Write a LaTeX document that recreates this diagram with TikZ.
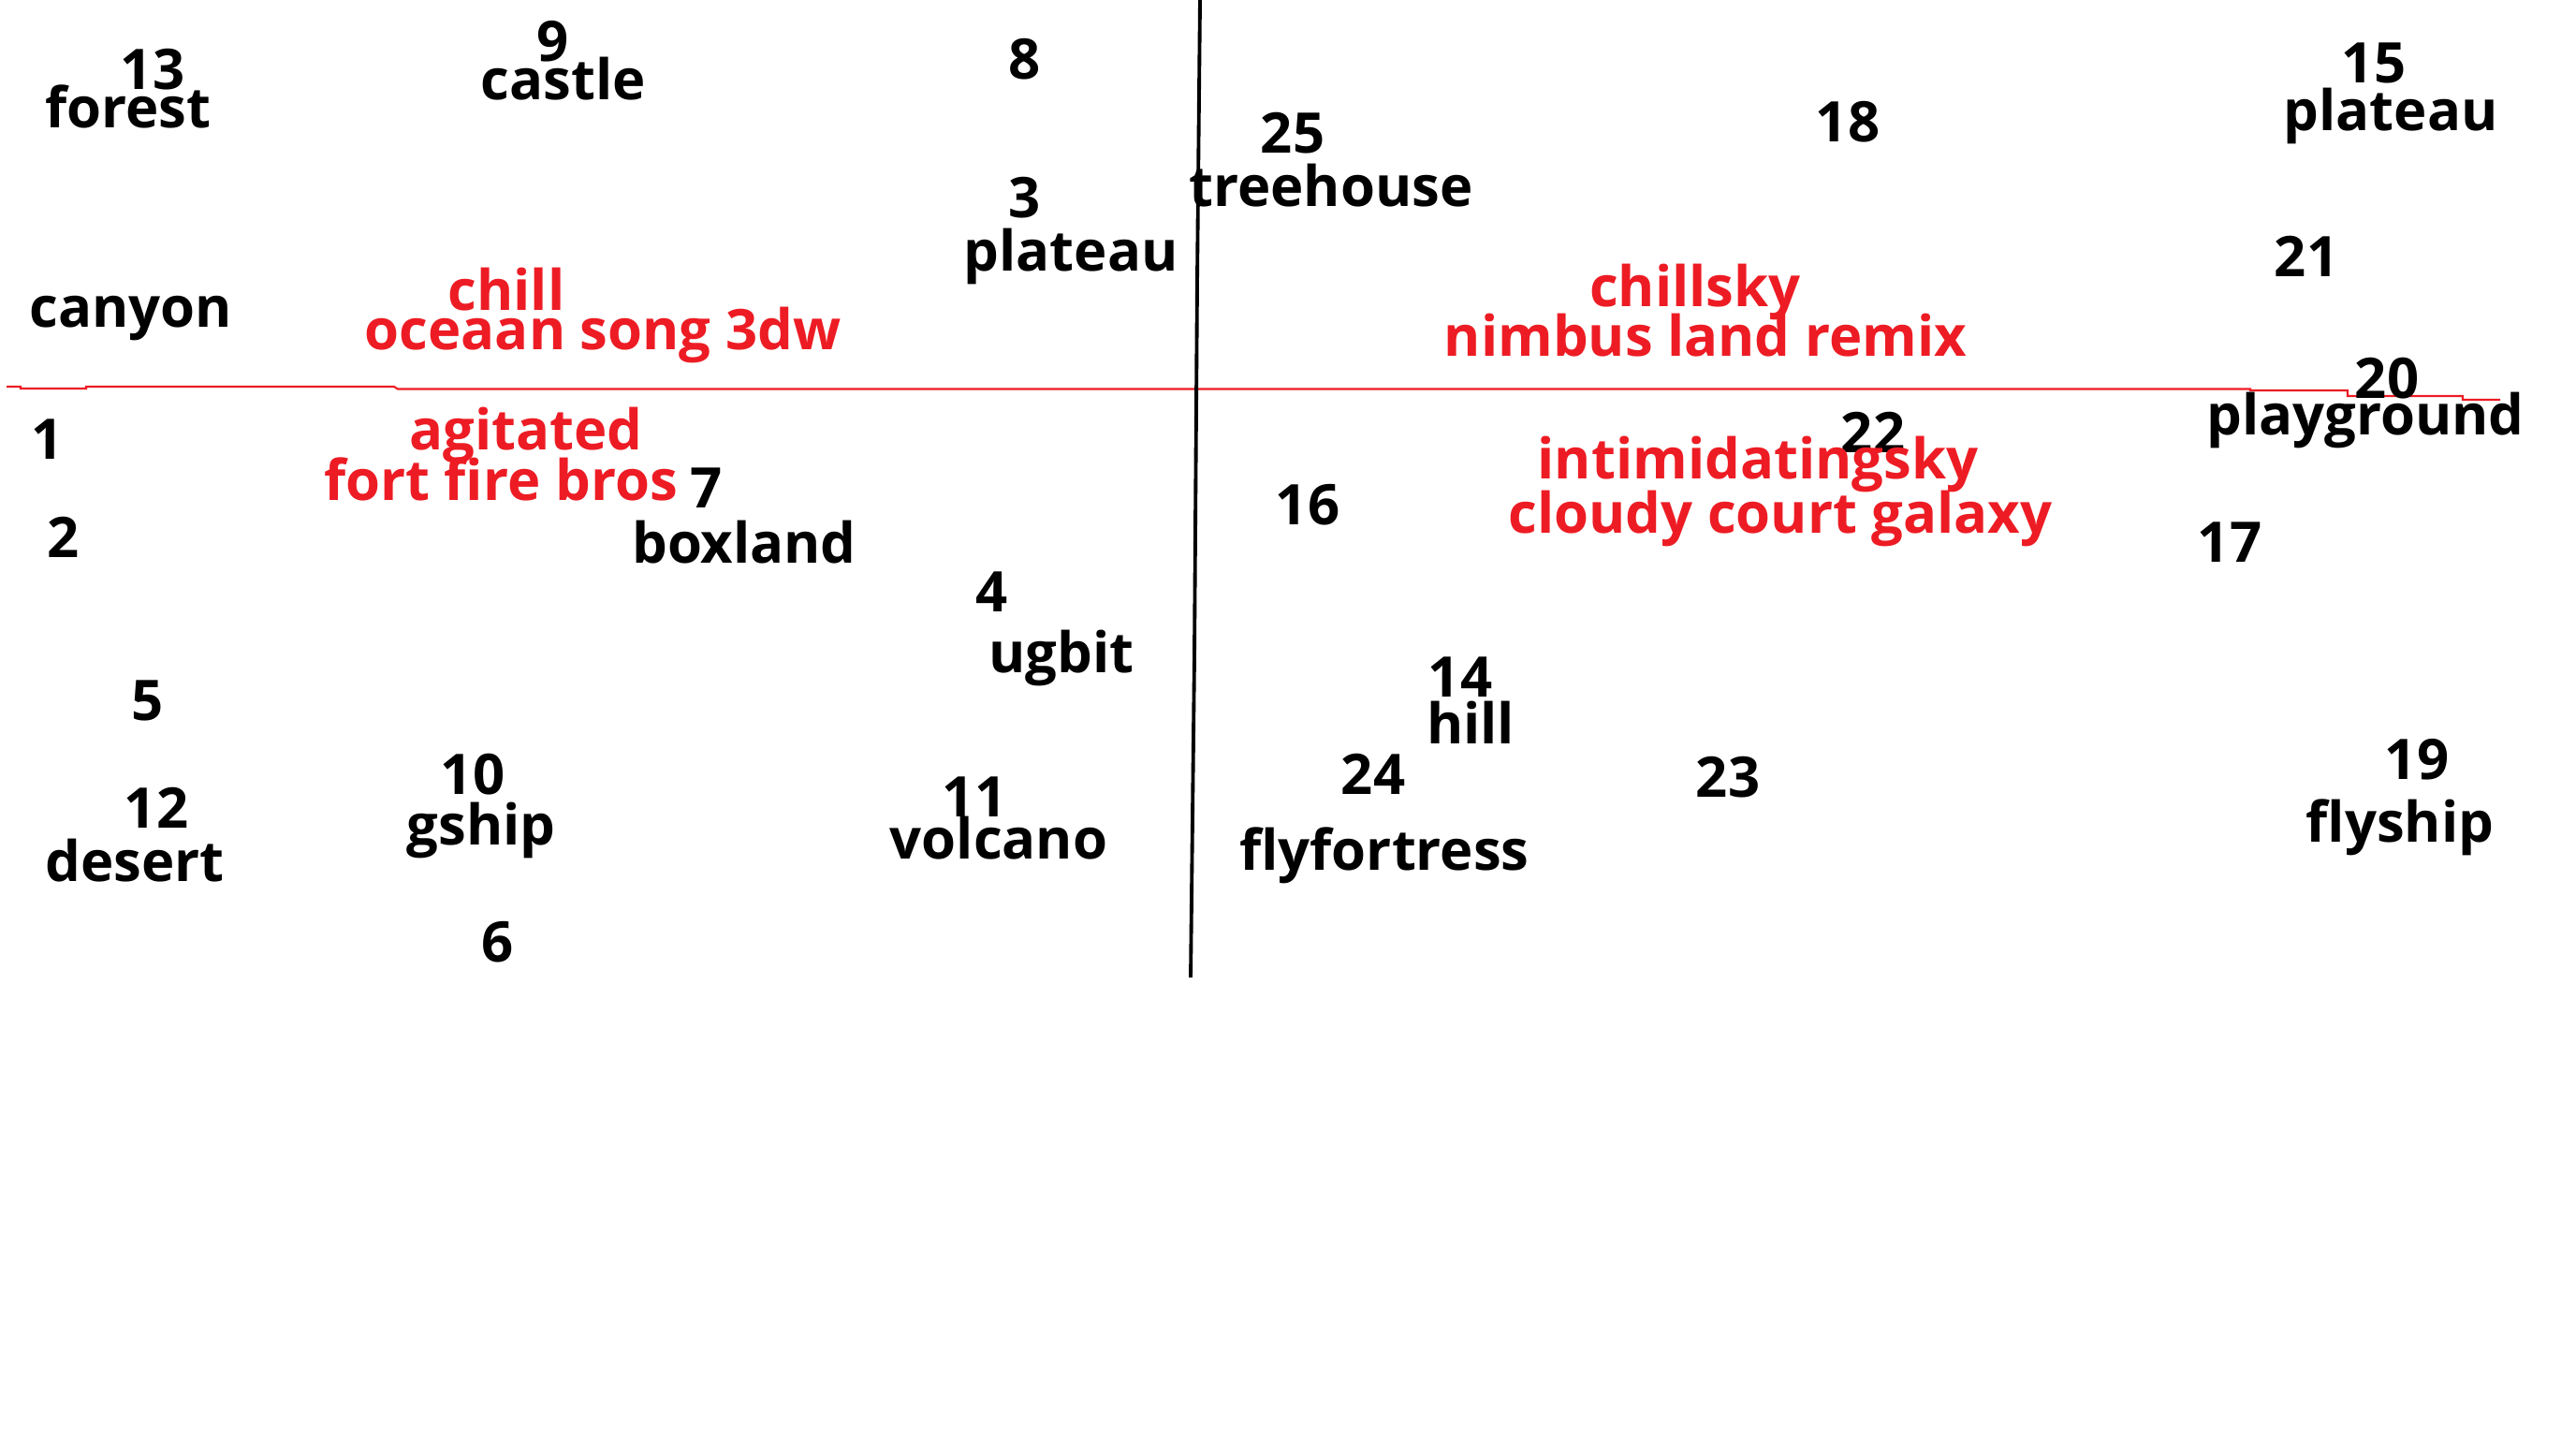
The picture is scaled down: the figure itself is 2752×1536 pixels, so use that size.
\documentclass[tikz,border=0pt]{standalone}
\usepackage{fontspec}
\setmainfont{Open Sans}
\usepackage{xcolor}
\usepackage{tikz}
\definecolor{MapRed}{HTML}{ED1C24}
\definecolor{MapInk}{HTML}{000000}

\begin{document}
\begin{tikzpicture}[x=0.01cm,y=-0.01cm,
  num/.style={inner sep=0pt,text=MapInk,font=\fontsize{17}{20}\selectfont\bfseries},
  place/.style={num},
  mood/.style={inner sep=0pt,text=MapRed,font=\fontsize{17}{20}\selectfont\bfseries}]
\path[use as bounding box,fill=white] (0,0) rectangle (2752,1536);
% axes
\draw[MapRed,line width=0.6pt] (7,413) -- (22,413) -- (22,415) -- (92,415) -- (92,413) -- (421,413) -- (425,415.5) -- (2404,415.5) -- (2404,417) -- (2508,417) -- (2508,423) -- (2631,423) -- (2631,427) -- (2671,427);
\draw[MapInk,line width=1.1pt] (1282,0) -- (1279,300) -- (1276,700) -- (1272,1044);
% numbered spots, left half
\node[num] (n13) at (163,74) {13};
\node[place] (forest) at (137,114) {forest};
\node[num] (n9) at (591,44) {9};
\node[place] (castle) at (602,84) {castle};
\node[num] (n8) at (1095,63) {8};
\node[num] (n3) at (1095,211) {3};
\node[place] (plateauA) at (1144,274) {plateau};
\node[place] (canyon) at (140,340) {canyon};
\node[num] (n1) at (51,469) {1};
\node[num] (n7) at (755,521) {7};
\node[place] (boxland) at (795,579) {boxland};
\node[num] (n2) at (68,574) {2};
\node[num] (n4) at (1060,632) {4};
\node[place] (ugbit) at (1134,703) {ugbit};
\node[num] (n5) at (158,748) {5};
\node[num] (n10) at (505,827) {10};
\node[place] (gship) at (514,887) {gship};
\node[num] (n11) at (1041,851) {11};
\node[place] (volcano) at (1067,895) {volcano};
\node[num] (n12) at (167,863) {12};
\node[place] (desert) at (144,919) {desert};
\node[num] (n6) at (532,1006) {6};
% numbered spots, right half
\node[num] (n25) at (1381,142) {25};
\node[place] (treehouse) at (1422,198) {treehouse};
\node[num] (n18) at (1974,130) {18};
\node[num] (n15) at (2536,67) {15};
\node[place] (plateauB) at (2554,124) {plateau};
\node[num] (n21) at (2464,274) {21};
\node[num] (n20) at (2550,404) {20};
\node[place] (playground) at (2527,449) {playground};
\node[num] (n16) at (1397,539) {16};
\node[num] (n22) at (2001,462) {22};
\node[num] (n17) at (2382,579) {17};
\node[num] (n14) at (1560,723) {14};
\node[place] (hill) at (1571,772) {hill};
\node[num] (n24) at (1467,827) {24};
\node[num] (n23) at (1846,830) {23};
\node[place] (flyfortress) at (1479,914) {flyfortress};
\node[num] (n19) at (2582,811) {19};
\node[place] (flyship) at (2564,884) {flyship};
% moods
\node[mood] (chill) at (541,309) {chill};
\node[mood] (oceaan) at (644,358) {oceaan song 3dw};
\node[mood] (chillsky) at (1811,312) {chillsky};
\node[mood] (nimbus) at (1822,358) {nimbus land remix};
\node[mood] (agitated) at (562,465) {agitated};
\node[mood] (fortfire) at (535,512) {fort fire bros};
\node[mood] (intimidating) at (1878,496) {intimidatingsky};
\node[mood] (cloudy) at (1902,554) {cloudy court galaxy};
\end{tikzpicture}
\end{document}
